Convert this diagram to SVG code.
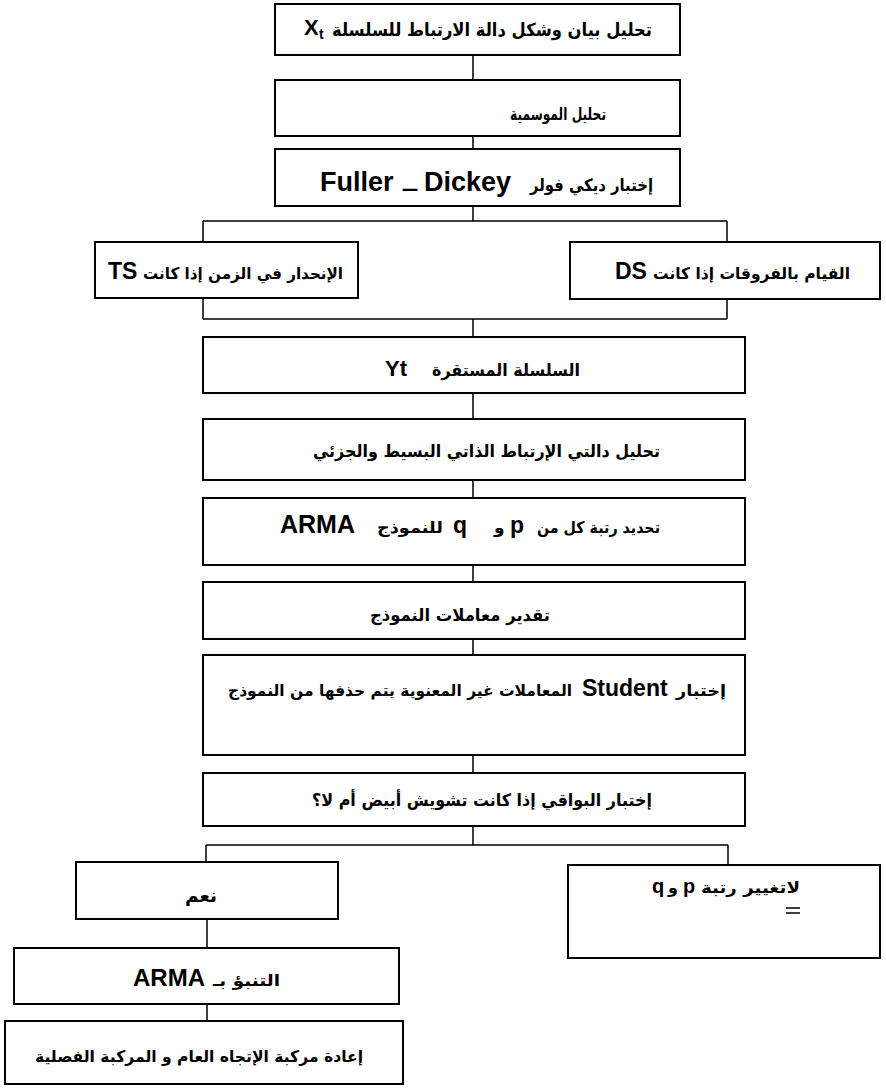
<svg xmlns="http://www.w3.org/2000/svg" width="886" height="1088" viewBox="0 0 886 1088">
<style>
.box{fill:#fff;stroke:#000;stroke-width:2}
.ln{fill:none;stroke:#000;stroke-width:1.5}
.ar{font-family:'DejaVu Sans',sans-serif;font-weight:bold;fill:#000}
.la{font-family:'Liberation Sans',Arial,sans-serif;font-weight:bold;fill:#000}
</style>
<rect width="886" height="1088" fill="#fff"/>
<g id="connectors">
<path class="ln" d="M473 55V80M473 136V149M473 206V221M203 221H727M203 221V242M727 221V242M203 298V319M727 299V319M203 319H727M473 319V337M473 393V419M473 480V498M473 565V582M473 639V655M473 755V773M473 826V845M206 845H728M206 845V862M728 845V865M207 919V948M207 1004V1021"/>
</g>
<g id="n1">
<rect class="box" x="275" y="4" width="405" height="51"/>
<text class="la" x="304" y="35" font-size="22">X</text>
<text class="la" x="319" y="39" font-size="14">t</text>
<text class="ar" x="332" y="36" font-size="18" textLength="320" lengthAdjust="spacingAndGlyphs">تحليل بيان وشكل دالة الارتباط للسلسلة</text>
</g>
<g id="n2">
<rect class="box" x="275" y="80" width="405" height="56"/>
<text class="ar" x="510" y="120" font-size="17" textLength="96" lengthAdjust="spacingAndGlyphs">تحليل الموسمية</text>
</g>
<g id="n3">
<rect class="box" x="275" y="149" width="405" height="57"/>
<text class="la" x="320" y="191" font-size="27">Fuller</text>
<text class="ar" x="403" y="191" font-size="18" textLength="14" lengthAdjust="spacingAndGlyphs">ـ</text>
<text class="la" x="424" y="191" font-size="27">Dickey</text>
<text class="ar" x="530" y="191" font-size="17" textLength="123" lengthAdjust="spacingAndGlyphs">إختبار ديكي فولر</text>
</g>
<g id="n4">
<rect class="box" x="95" y="242" width="263" height="56"/>
<text class="la" x="108" y="279" font-size="23">TS</text>
<text class="ar" x="143" y="279" font-size="16" textLength="200" lengthAdjust="spacingAndGlyphs">الإنحدار في الزمن إذا كانت</text>
</g>
<g id="n5">
<rect class="box" x="570" y="242" width="310" height="57"/>
<text class="la" x="615" y="279" font-size="23">DS</text>
<text class="ar" x="653" y="279" font-size="16" textLength="197" lengthAdjust="spacingAndGlyphs">القيام بالفروقات إذا كانت</text>
</g>
<g id="n6">
<rect class="box" x="203" y="337" width="542" height="56"/>
<text class="la" x="385" y="376" font-size="22">Yt</text>
<text class="ar" x="432" y="376" font-size="17" textLength="148" lengthAdjust="spacingAndGlyphs">السلسلة المستقرة</text>
</g>
<g id="n7">
<rect class="box" x="203" y="419" width="542" height="61"/>
<text class="ar" x="313" y="457" font-size="17" textLength="347" lengthAdjust="spacingAndGlyphs">تحليل دالتي الإرتباط الذاتي البسيط والجزئي</text>
</g>
<g id="n8">
<rect class="box" x="203" y="498" width="542" height="67"/>
<text class="la" x="280" y="533" font-size="25">ARMA</text>
<text class="ar" x="377" y="533" font-size="16" textLength="66" lengthAdjust="spacingAndGlyphs">للنموذج</text>
<text class="la" x="453" y="533" font-size="23">q</text>
<text class="ar" x="494" y="533" font-size="17">و</text>
<text class="la" x="510" y="533" font-size="23">p</text>
<text class="ar" x="537" y="533" font-size="16" textLength="123" lengthAdjust="spacingAndGlyphs">تحديد رتبة كل من</text>
</g>
<g id="n9">
<rect class="box" x="203" y="582" width="542" height="57"/>
<text class="ar" x="370" y="621" font-size="17" textLength="180" lengthAdjust="spacingAndGlyphs">تقدير معاملات النموذج</text>
</g>
<g id="n10">
<rect class="box" x="203" y="655" width="542" height="100"/>
<text class="ar" x="228" y="696" font-size="16" textLength="344" lengthAdjust="spacingAndGlyphs">المعاملات غير المعنوية يتم حذفها من النموذج</text>
<text class="la" x="582" y="696" font-size="23">Student</text>
<text class="ar" x="676" y="696" font-size="16" textLength="50" lengthAdjust="spacingAndGlyphs">إختبار</text>
</g>
<g id="n11">
<rect class="box" x="203" y="773" width="542" height="53"/>
<text class="ar" x="312" y="806" font-size="17" textLength="340" lengthAdjust="spacingAndGlyphs">إختبار البواقي إذا كانت تشويش أبيض أم لا؟</text>
</g>
<g id="n12">
<rect class="box" x="76" y="862" width="262" height="57"/>
<text class="ar" x="185" y="902" font-size="18" textLength="32" lengthAdjust="spacingAndGlyphs">نعم</text>
</g>
<g id="n13">
<rect class="box" x="568" y="865" width="312" height="93"/>
<text class="la" x="652" y="893" font-size="20">q</text>
<text class="ar" x="668" y="893" font-size="16">و</text>
<text class="la" x="683" y="893" font-size="20">p</text>
<text class="ar" x="701" y="893" font-size="16" textLength="99" lengthAdjust="spacingAndGlyphs">لاتغيير رتبة</text>
<path class="ln" d="M786 908H800M786 913H800"/>
</g>
<g id="n14">
<rect class="box" x="14" y="948" width="385" height="56"/>
<text class="la" x="133" y="986" font-size="24">ARMA</text>
<text class="ar" x="213" y="986" font-size="16" textLength="67" lengthAdjust="spacingAndGlyphs">التنبؤ بـ</text>
</g>
<g id="n15">
<rect class="box" x="5" y="1021" width="398" height="63"/>
<text class="ar" x="35" y="1062" font-size="16" textLength="328" lengthAdjust="spacingAndGlyphs">إعادة مركبة الإتجاه  العام و المركبة الفصلية</text>
</g>
</svg>
